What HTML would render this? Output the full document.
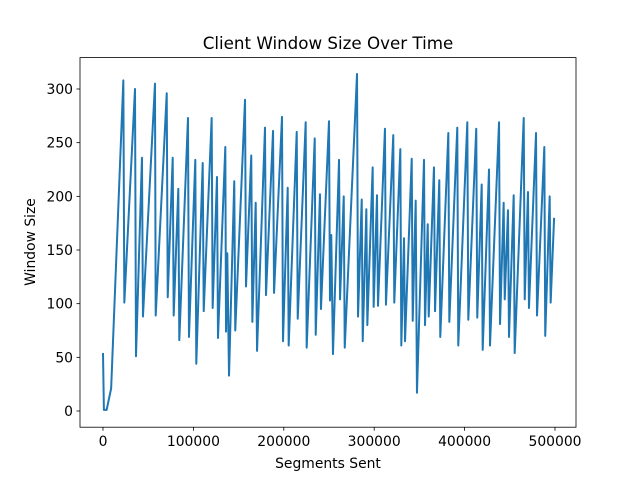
<!DOCTYPE html>
<html><head><meta charset="utf-8"><style>
body{margin:0;background:#fff;}
svg{display:block;font-family:"DejaVu Sans","Liberation Sans",sans-serif;}
</style></head><body>
<svg id="chart" width="640" height="480">
<rect width="640" height="480" fill="#fff"/>
<g id="plot"></g>
<rect x="80" y="57.6" width="496" height="369.6" fill="none" stroke="#000" stroke-width="0.8"/>
<text x="328" y="49" text-anchor="middle" font-size="16.7">Client Window Size Over Time</text>
<text x="328" y="468" text-anchor="middle" font-size="13.9">Segments Sent</text>
<text x="35" y="242" text-anchor="middle" font-size="13.9" transform="rotate(-90 35 242)">Window Size</text>
<g id="ticks"></g>
</svg>
<script>
const segments=[0,1000,4000,9000,22500,23600,35400,36500,43100,44200,57500,58300,70500,71600,77100,78200,83300,84400,94000,95100,102100,103200,110300,111400,120200,121300,126100,127200,135300,136100,137500,139400,145200,146300,157100,158200,164000,165200,168900,170400,179200,180300,188100,189200,198000,199100,204300,205400,214300,215400,224200,225300,234200,235300,240000,241100,250000,251100,252500,254400,261100,262200,266300,267400,281000,282100,286200,287300,291300,292400,298300,299400,303100,304200,311900,313000,321100,322200,328900,330000,333000,334100,341500,342600,345900,347300,355100,356200,359200,360300,366100,367300,372000,373100,382000,383100,391900,393000,403000,404100,412900,414000,418900,420000,427000,428100,438100,439200,443200,444400,448000,449100,454300,455400,465400,466500,470100,471200,479000,480100,488200,489200,494100,495200,499000];
const windowSizes=[54,1,1,21,308,101,300,51,236,88,305,89,296,106,236,89,207,66,273,69,234,44,231,93,273,96,218,68,246,74,147,33,214,75,290,116,238,83,194,56,264,108,261,110,274,65,208,61,260,86,269,59,254,71,202,95,270,103,164,53,234,104,200,59,314,88,197,65,188,80,227,97,201,98,263,99,257,101,244,61,161,65,235,84,196,17,234,80,174,88,227,93,215,69,259,83,264,61,269,85,263,87,211,57,225,61,269,81,194,104,187,69,201,54,273,104,204,96,259,89,246,70,200,101,180];
const xTicks=[0,100000,200000,300000,400000,500000];
const yTicks=[0,50,100,150,200,250,300];
const NS='http://www.w3.org/2000/svg';
const X=v=>103+v*452/500000;
const Y=v=>411-v*322/300;
const plot=document.getElementById('plot');
const line=document.createElementNS(NS,'polyline');
line.setAttribute('points',segments.map((s,i)=>X(s).toFixed(2)+','+Y(windowSizes[i]).toFixed(2)).join(' '));
line.setAttribute('fill','none');line.setAttribute('stroke','#1f77b4');line.setAttribute('stroke-width','2');line.setAttribute('stroke-linejoin','round');


plot.appendChild(line);
const tg=document.getElementById('ticks');
xTicks.forEach(t=>{
 const l=document.createElementNS(NS,'line');
 l.setAttribute('x1',X(t));l.setAttribute('x2',X(t));l.setAttribute('y1',427.2);l.setAttribute('y2',430.7);l.setAttribute('stroke','#000');l.setAttribute('stroke-width','0.8');
 
 
 tg.appendChild(l);
 const tx=document.createElementNS(NS,'text');
 tx.setAttribute('x',X(t));tx.setAttribute('y',446);tx.setAttribute('text-anchor','middle');tx.setAttribute('font-size','13.9');
 tx.textContent=t;
 
 
 tg.appendChild(tx);
});
yTicks.forEach(t=>{
 const l=document.createElementNS(NS,'line');
 l.setAttribute('x1',76.5);l.setAttribute('x2',80);l.setAttribute('y1',Y(t));l.setAttribute('y2',Y(t));l.setAttribute('stroke','#000');l.setAttribute('stroke-width','0.8');
 
 
 tg.appendChild(l);
 const tx=document.createElementNS(NS,'text');
 tx.setAttribute('x',73);tx.setAttribute('y',Y(t)+5);tx.setAttribute('text-anchor','end');tx.setAttribute('font-size','13.9');
 tx.textContent=t;
 
 
 tg.appendChild(tx);
});
</script>
</body></html>
